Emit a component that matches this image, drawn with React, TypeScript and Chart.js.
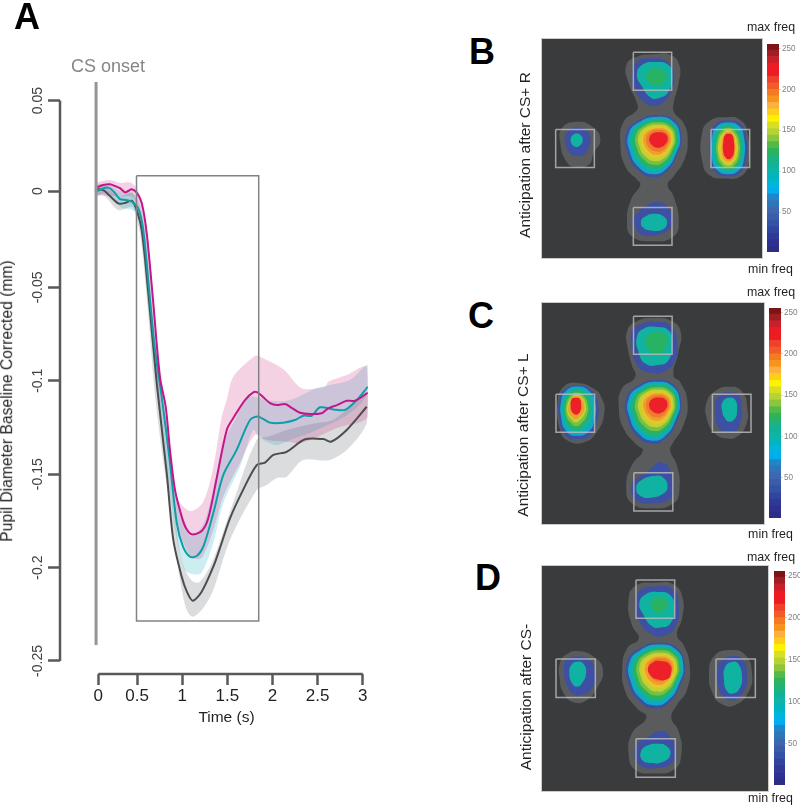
import React, { useEffect, useRef } from "react";
import { Chart, registerables } from "chart.js";

Chart.register(...registerables);

const FONT = '"Liberation Sans", Arial, sans-serif';

/* ---------- Panel A data ---------- */
const yTickValues = [0.05, 0.0016, -0.05, -0.1, -0.15, -0.2, -0.25];
const yTickLabels = ["0.05", "0", "-0.05", "-0.1", "-0.15", "-0.2", "-0.25"];
const xTickValues = [0.07, 0.5, 1, 1.5, 2, 2.5, 3];
const xTickLabels = ["0", "0.5", "1", "1.5", "2", "2.5", "3"];

const magentaT = [0.033, 0.122, 0.199, 0.255, 0.31, 0.366, 0.399, 0.44, 0.495, 0.551, 0.606, 0.676, 0.753, 0.817, 0.864, 0.92, 0.994, 1.041, 1.105, 1.215, 1.289, 1.382, 1.493, 1.566, 1.695, 1.787, 1.832, 1.895, 1.972, 2.05, 2.139, 2.216, 2.305, 2.416, 2.545, 2.618, 2.715, 2.822, 2.914, 3.055];
const magentaV = [0.0031, 0.0048, 0.0052, 0.0043, 0.0031, 0.0009, 0.0016, 0.0025, 0.0007, -0.0048, -0.0209, -0.0567, -0.098, -0.1139, -0.137, -0.1585, -0.1727, -0.1788, -0.1822, -0.1804, -0.1734, -0.152, -0.1263, -0.1199, -0.1103, -0.1062, -0.1062, -0.1087, -0.1119, -0.113, -0.1124, -0.1146, -0.1171, -0.1178, -0.1174, -0.1147, -0.113, -0.1107, -0.1107, -0.1064];
const tealT = [0.033, 0.111, 0.181, 0.244, 0.31, 0.377, 0.44, 0.513, 0.568, 0.643, 0.698, 0.772, 0.864, 0.939, 1.008, 1.086, 1.16, 1.233, 1.344, 1.455, 1.603, 1.751, 1.843, 1.972, 2.12, 2.249, 2.341, 2.434, 2.526, 2.674, 2.803, 2.933, 3.055];
const tealV = [0.0009, 0.0027, 0.0034, 0.0011, -0.0027, -0.0032, -0.0041, -0.0077, -0.0193, -0.0567, -0.0835, -0.1085, -0.144, -0.1761, -0.1888, -0.1942, -0.1938, -0.1888, -0.1708, -0.1504, -0.137, -0.121, -0.1192, -0.1224, -0.1224, -0.121, -0.1187, -0.1187, -0.1142, -0.1153, -0.1156, -0.1103, -0.1032];
const greyT = [0.033, 0.125, 0.199, 0.291, 0.366, 0.44, 0.495, 0.551, 0.624, 0.717, 0.828, 0.901, 0.994, 1.053, 1.116, 1.215, 1.344, 1.429, 1.529, 1.673, 1.825, 1.917, 2.009, 2.157, 2.36, 2.563, 2.648, 2.822, 3.044];
const greyV = [0.0027, 0.0021, -0.0011, -0.005, -0.0048, -0.0036, -0.0086, -0.0193, -0.053, -0.1012, -0.1494, -0.1852, -0.2049, -0.2131, -0.2177, -0.2129, -0.1995, -0.1879, -0.1736, -0.1585, -0.1451, -0.1438, -0.1397, -0.138, -0.1313, -0.1312, -0.1326, -0.1263, -0.1139];

const pinkUpT = [0.033, 0.199, 0.31, 0.44, 0.532, 0.606, 0.676, 0.753, 0.828, 0.939, 1.086, 1.233, 1.344, 1.438, 1.493, 1.566, 1.806, 1.861, 2.12, 2.324, 2.582, 2.618, 2.822, 3.044];
const pinkUpV = [0.006, 0.0075, 0.0059, 0.0059, -0.0005, -0.0177, -0.053, -0.0942, -0.1192, -0.162, -0.1697, -0.1647, -0.146, -0.1192, -0.1103, -0.0978, -0.0866, -0.0871, -0.0938, -0.104, -0.1032, -0.1005, -0.0969, -0.0925];
const pinkLoT = [0.033, 0.31, 0.44, 0.51, 0.576, 0.643, 0.731, 0.828, 0.939, 1.049, 1.119, 1.215, 1.344, 1.455, 1.64, 1.806, 1.936, 2.157, 2.305, 2.504, 2.711, 3.055];
const pinkLoV = [-0.0005, -0.0014, -0.0014, -0.0068, -0.0219, -0.0567, -0.1022, -0.1333, -0.1761, -0.1906, -0.1949, -0.1949, -0.1799, -0.162, -0.144, -0.129, -0.1317, -0.1326, -0.1333, -0.1299, -0.1253, -0.1192];
const tealUpT = [0.033, 0.177, 0.31, 0.44, 0.521, 0.587, 0.654, 0.753, 0.842, 0.931, 1.086, 1.23, 1.341, 1.452, 1.603, 1.751, 1.972, 2.194, 2.49, 2.637, 2.859, 3.055];
const tealUpV = [0.004, 0.0054, 0.0016, 0.0011, -0.0043, -0.0193, -0.0541, -0.0996, -0.1263, -0.1611, -0.1831, -0.1772, -0.1585, -0.1344, -0.1192, -0.1085, -0.1107, -0.1103, -0.1039, -0.1022, -0.0996, -0.0915];
const tealLoT = [0.033, 0.177, 0.31, 0.44, 0.504, 0.554, 0.62, 0.731, 0.831, 0.939, 1.03, 1.122, 1.215, 1.344, 1.455, 1.64, 1.787, 1.861, 2.046, 2.194, 2.49, 2.859, 3.055];
const tealLoV = [-0.0016, 0.0005, -0.007, -0.0086, -0.0112, -0.0219, -0.0594, -0.1103, -0.1478, -0.1852, -0.2013, -0.2036, -0.2027, -0.1868, -0.1654, -0.146, -0.1263, -0.1306, -0.1344, -0.1317, -0.1263, -0.1172, -0.1065];
const greyUpT = [0.033, 0.125, 0.291, 0.44, 0.499, 0.554, 0.643, 0.753, 0.864, 0.975, 1.049, 1.122, 1.197, 1.341, 1.562, 1.825, 1.972, 2.157, 2.49, 2.67, 3.055];
const greyUpV = [0.0054, 0.0048, -0.0011, 0.0005, -0.0048, -0.0166, -0.0541, -0.1076, -0.1478, -0.1922, -0.2029, -0.2076, -0.2076, -0.1959, -0.1654, -0.1317, -0.1296, -0.1263, -0.1226, -0.121, -0.1065];
const greyLoT = [0.033, 0.125, 0.291, 0.44, 0.488, 0.543, 0.609, 0.698, 0.787, 0.864, 0.975, 1.049, 1.116, 1.233, 1.344, 1.529, 1.825, 1.936, 2.046, 2.157, 2.338, 2.637, 2.859, 3.044];
const greyLoV = [-0.0011, -0.0005, -0.0086, -0.007, -0.0118, -0.0246, -0.0567, -0.1076, -0.1424, -0.1674, -0.2066, -0.2227, -0.2263, -0.2216, -0.212, -0.1852, -0.1585, -0.1558, -0.152, -0.1513, -0.1424, -0.1424, -0.1353, -0.1226];

const windowBoxT = [0.493, 1.847];
const windowBoxV = [0.0098, -0.2286];
const onsetT = 0.045;
const onsetV = [0.0599, -0.2414];

/* ---------- Gaze-map contours: flat x,y lists in map units ---------- */
const centreB = [
  [590,286,642,302,663,350,652,402,618,455,575,472,532,450,502,400,498,340,532,303],
  [590,291,639,306,659,351,648,399,617,448,577,463,536,443,509,397,505,342,536,307],
  [591,296,637,310,655,352,645,396,615,440,578,454,541,435,515,393,512,343,541,311],
  [592,301,634,314,651,352,641,393,614,433,580,446,545,428,522,390,519,345,545,315],
  [592,307,631,319,646,353,637,389,613,424,581,435,550,419,530,386,527,346,550,319],
  [593,314,627,324,641,354,633,386,611,415,583,424,555,410,538,382,535,348,555,324],
  [593,319,624,328,636,355,629,382,610,407,585,415,560,402,545,378,543,350,560,328],
  [594,325,621,332,632,356,625,379,608,399,586,405,565,394,552,374,550,351,565,333],
  [594,330,618,337,627,357,621,376,607,391,588,395,569,386,559,370,558,353,569,337],
  [595,337,615,342,622,358,616,372,605,381,590,384,575,376,568,366,567,355,575,342],
];
const centreRedD = [600,348,628,358,632,385,620,403,590,403,570,390,563,370,578,352];

const haloB = [
  [580,103,630,105,657,135,655,190,640,250,642,278,670,310,682,360,672,420,640,470,622,495,640,530,655,600,640,650,575,665,515,650,500,605,512,540,540,495,530,480,495,440,480,370,490,305,530,270,530,250,505,190,498,135,530,110],
  [350,306,395,320,420,358,400,400,385,435,345,442,318,425,300,370,305,325],
  [795,292,840,300,862,340,865,430,840,470,795,476,750,468,727,430,725,340,750,302],
];
const topB = [
  [575,115,620,125,640,160,632,215,605,250,580,258,550,245,525,210,516,165,530,125],
  [585,126,625,135,636,165,625,215,595,235,570,232,545,200,530,165,545,135],
  [588,145,612,155,618,175,605,192,585,198,565,185,557,165,568,150],
];
const bottomB = [
  [585,547,620,560,637,600,625,630,590,645,545,645,525,625,520,600,535,575,565,555],
  [583,582,612,592,620,612,605,630,575,633,550,625,542,605,555,590],
];
const leftB = [
  [350,323,382,335,390,365,375,400,345,408,322,390,314,355,325,332],
  [348,341,362,347,367,362,358,378,345,381,334,372,331,357,337,346],
];
const rightB = [
  [803,302,840,312,857,350,857,420,840,458,803,470,767,458,750,420,750,350,767,312],
  [803,308,835,318,851,352,851,418,835,452,803,463,772,452,755,418,755,352,772,318],
  [803,314,830,322,846,355,846,415,830,447,803,457,776,447,761,415,761,355,776,322],
  [803,319,826,328,841,358,841,412,826,442,803,450,781,442,766,412,766,358,781,328],
  [803,324,822,333,836,360,836,410,822,436,803,444,785,436,771,410,771,360,785,333],
  [803,330,818,338,831,362,831,406,818,430,803,437,789,430,776,406,776,362,789,338],
  [803,335,815,342,827,365,827,403,815,425,803,430,792,425,780,403,780,365,792,342],
  [804,336,818,344,824,368,824,400,816,420,804,426,792,420,784,400,784,368,792,344],
  [805,342,815,345,821,365,821,398,815,412,805,418,795,412,789,398,789,365,795,345],
];
const boxesB = [[519,97,634,211],[286,329,402,443],[752,329,868,443],[519,563,635,677]];

const haloC = [
  [580,98,635,108,662,140,655,200,640,270,660,290,682,350,670,420,635,480,630,497,650,540,658,610,640,655,575,670,515,655,498,605,515,540,548,497,530,480,490,430,476,370,485,310,525,275,515,240,503,190,500,140,525,110],
  [350,293,400,310,425,340,432,385,410,440,370,472,320,465,298,430,292,350,310,305],
  [805,305,845,318,862,370,858,420,830,455,800,460,765,445,740,400,740,350,765,318],
];
const topC = [
  [585,110,630,120,650,165,645,225,610,260,570,262,535,245,516,190,516,135,545,115],
  [590,125,625,135,636,170,625,225,590,240,555,235,535,200,530,155,550,130],
  [590,140,615,148,622,170,610,198,595,210,572,200,556,175,563,150],
];
const bottomC = [
  [605,532,625,545,640,600,632,640,580,655,535,650,515,625,520,590,555,565,590,535],
  [585,572,612,580,622,605,610,625,570,638,540,632,528,612,540,588],
];
const leftC = [
  [350,300,390,312,412,350,410,410,390,450,350,462,315,450,297,400,297,340,315,312],
  [350,304,385,316,405,352,402,405,385,440,350,452,318,438,303,400,303,345,318,316],
  [348,310,380,320,398,355,395,400,378,430,350,443,322,430,308,400,308,350,322,322],
  [346,316,375,327,390,358,386,395,370,422,348,433,326,420,313,395,313,352,326,328],
  [346,322,370,332,383,360,380,390,365,413,347,423,330,412,318,390,318,355,330,332],
  [346,328,366,337,377,362,374,385,360,404,346,412,334,403,322,385,322,358,334,338],
  [346,332,362,340,372,362,368,382,356,396,346,402,336,395,326,382,326,360,336,342],
  [347,338,358,340,363,362,360,378,352,387,345,388,335,380,331,362,335,340],
];
const rightC = [
  [808,322,835,330,846,370,840,415,830,435,805,438,780,432,767,400,767,350,780,330],
  [808,337,826,345,831,375,825,400,808,410,795,400,786,375,788,350],
];
const boxesC = [[520,93,636,207],[287,327,403,441],[757,327,873,441],[521,563,638,678]];

const haloD = [
  [585,112,640,118,667,160,665,220,650,270,670,300,688,360,680,435,650,480,633,518,655,560,663,630,640,675,580,686,525,675,505,630,515,565,558,518,530,490,495,440,486,370,500,310,535,280,515,240,504,170,525,122],
  [350,318,400,335,428,375,410,430,380,465,340,472,310,445,298,400,300,350,318,328],
  [810,315,855,330,875,385,865,440,825,480,785,478,755,440,746,390,760,335],
];
const topD = [
  [590,123,640,135,655,185,645,245,610,272,575,268,540,235,527,190,535,140],
  [595,140,630,150,642,190,630,235,600,247,575,243,550,210,537,175,555,148],
  [597,155,615,162,622,180,608,198,595,205,578,192,570,175,578,162],
];
const bottomD = [
  [600,558,625,570,647,620,635,655,590,670,545,665,525,640,530,600,565,575],
  [590,597,620,605,630,630,610,650,570,655,545,645,542,620,560,603],
];
const leftD = [
  [350,334,388,345,405,385,395,430,365,450,340,448,320,420,311,380,318,345],
  [350,350,370,357,377,385,365,415,350,425,335,415,327,385,333,360],
];
const rightD = [
  [818,333,848,345,860,395,850,440,820,465,790,455,773,420,770,375,785,345],
  [818,350,835,358,845,395,838,430,818,446,800,438,791,405,795,365],
];
const boxesD = [[527,104,643,219],[287,342,405,458],[767,342,885,458],[527,582,645,698]];

/* ---------- Colour bar ---------- */
const barEdges = [1,8,16,24,32,40,48,56,64,72,80,88,96,104,112,120,128,136,144,152,160,168,176,184,192,200,208,216,232,240,248,256];
const barColours = ["#2b2e83","#2e3192","#2f3a96","#32459e","#3553a4","#3a5ca9","#3d68b0","#2f75b9","#1f86c7","#00aeef","#00b5dc","#00b5c0","#0db4a8","#10b397","#1eb27c","#2cb35c","#55b848","#8cc63f","#b5d334","#d7df23","#fff200","#fdd017","#fbb040","#f7941d","#f47c20","#f15a29","#ef4129","#ed1c24","#c8202b","#a01e22","#7a1416"];
const barTicks = [50, 100, 150, 200, 250];

/* ---------- Styles ---------- */
const BLUE = "#3d50a3", CYAN = "#10a8c8", TEAL = "#10b2a2", GREEN = "#27b264", LIME = "#78bf44",
  YGREEN = "#bfd231", YORANGE = "#e3c72b", ORANGE = "#ef9e2c", RORANGE = "#ee7a2d", RED = "#ec2029";
const centreColours = [BLUE, CYAN, TEAL, GREEN, LIME, YGREEN, YORANGE, ORANGE, RORANGE, RED];
const rightBColours = [BLUE, CYAN, TEAL, GREEN, LIME, YGREEN, YORANGE, ORANGE, RED];
const leftCColours = [BLUE, CYAN, TEAL, GREEN, LIME, YGREEN, ORANGE, RED];
const triColours = [BLUE, TEAL, GREEN];
const HALO = "#5a5b5d";

const mapPoly = (p: number[], sx: number, sy: number, cx: number, cy: number, tx: number, ty: number) =>
  p.map((v, i) => (i % 2 === 0 ? (v - cx) * sx + tx : (v - cy) * sy + ty));

type Layer = { poly: number[]; colour: string };
const layers = (polys: number[][], colours: string[]): Layer[] =>
  polys.map((poly, i) => ({ poly, colour: colours[i] }));

const centreC = centreB.map((p) => mapPoly(p, 1, 1.03, 0, 378, 0, 379));
const centreD = centreB.map((p) => mapPoly(p, 1.05, 1.065, 580, 378, 586, 391));
centreD[centreD.length - 1] = centreRedD;

const panels = [
  {
    rect: [542, 39, 220, 219], origin: [245, 57], size: [660, 658], bar: [767, 38, 12, 220],
    layers: [...layers(haloB, [HALO, HALO, HALO]), ...layers(topB, triColours), ...layers(bottomB, [BLUE, TEAL]), ...layers(leftB, [BLUE, TEAL]), ...layers(rightB, rightBColours), ...layers(centreB, centreColours)],
    boxes: boxesB,
  },
  {
    rect: [542, 303, 222, 221], origin: [245, 53], size: [667, 664], bar: [769, 302, 12, 222],
    layers: [...layers(haloC, [HALO, HALO, HALO]), ...layers(topC, triColours), ...layers(bottomC, [BLUE, TEAL]), ...layers(rightC, [BLUE, TEAL]), ...layers(leftC, leftCColours), ...layers(centreC, centreColours)],
    boxes: boxesC,
  },
  {
    rect: [542, 566, 226, 225], origin: [245, 62], size: [678, 677], bar: [774, 565, 11, 226],
    layers: [...layers(haloD, [HALO, HALO, HALO]), ...layers(topD, triColours), ...layers(bottomD, [BLUE, TEAL]), ...layers(leftD, [BLUE, TEAL]), ...layers(rightD, [BLUE, TEAL]), ...layers(centreD, centreColours)],
    boxes: boxesD,
  },
];

const pairs = (p: number[]) => {
  const out: { x: number; y: number }[] = [];
  for (let i = 0; i < p.length; i += 2) out.push({ x: p[i], y: p[i + 1] });
  return out;
};
const closedSmooth = (p: number[]) => {
  const pts = pairs(p);
  return [pts[pts.length - 1], ...pts, pts[0], pts[1]];
};
const series = (t: number[], v: number[]) => t.map((x, i) => ({ x, y: v[i] }));
const bandShape = (ut: number[], uv: number[], lt: number[], lv: number[]) =>
  [...series(ut, uv), ...series(lt, lv).reverse()];

const texts: { s: string; x: number; y: number; size: number; color: string; weight?: number; rot?: boolean }[] = [
  { s: "A", x: 27, y: 17, size: 36, color: "#000", weight: 700 },
  { s: "B", x: 482, y: 52, size: 36, color: "#000", weight: 700 },
  { s: "C", x: 481, y: 316, size: 36, color: "#000", weight: 700 },
  { s: "D", x: 488, y: 578, size: 36, color: "#000", weight: 700 },
  { s: "CS onset", x: 108, y: 66, size: 18, color: "#85868a" },
  { s: "Pupil Diameter Baseline Corrected (mm)", x: 7, y: 401, size: 15.7, color: "#231f20", rot: true },
  { s: "Time (s)", x: 226.5, y: 717, size: 15.5, color: "#231f20" },
  { s: "Anticipation after CS+ R", x: 525, y: 155, size: 15.5, color: "#231f20", rot: true },
  { s: "Anticipation after CS+ L", x: 523, y: 435, size: 15.5, color: "#231f20", rot: true },
  { s: "Anticipation after CS-", x: 526, y: 697, size: 15.5, color: "#231f20", rot: true },
  { s: "max freq", x: 771, y: 27, size: 12.4, color: "#231f20" },
  { s: "min freq", x: 770.5, y: 269, size: 12.4, color: "#231f20" },
  { s: "max freq", x: 771, y: 292, size: 12.4, color: "#231f20" },
  { s: "min freq", x: 770.5, y: 534, size: 12.4, color: "#231f20" },
  { s: "max freq", x: 771, y: 557, size: 12.4, color: "#231f20" },
  { s: "min freq", x: 770.5, y: 798, size: 12.4, color: "#231f20" },
];

const canvasStyle = (x: number, y: number, w: number, h: number, extra: object = {}) => ({
  position: "absolute" as const, left: x, top: y, width: w, height: h, display: "block", ...extra,
});

export default function App() {
  const aRef = useRef<HTMLCanvasElement>(null);
  const heatRefs = useRef<(HTMLCanvasElement | null)[]>([]);
  const barRefs = useRef<(HTMLCanvasElement | null)[]>([]);

  useEffect(() => {
    const charts: Chart[] = [];
    const base = { fill: false, pointRadius: 0, showLine: true, tension: 0 };
    const AW = 400, AH = 740;

    const lineSet = (data: any[], color: string, width: number, extra: object = {}) => ({
      ...base, data, borderColor: color, borderWidth: width, ...extra,
    });
    const bandSet = (data: any[], color: string) => ({
      ...base, tension: 0.3, data, fill: "shape", backgroundColor: color, borderWidth: 0,
    });

    const yMin = -0.25696, yMax = 0.05996, xMin = -0.3546, xMax = 3.058;
    const drawn = [
      bandSet(bandShape(greyUpT, greyUpV, greyLoT, greyLoV), "rgba(90,95,100,0.22)"),
      bandSet(bandShape(tealUpT, tealUpV, tealLoT, tealLoV), "rgba(0,170,190,0.2)"),
      bandSet(bandShape(pinkUpT, pinkUpV, pinkLoT, pinkLoV), "rgba(200,30,120,0.2)"),
      lineSet(series(greyT, greyV), "#4d4d4f", 2, { tension: 0.3 }),
      lineSet(series(tealT, tealV), "#0f9ea8", 2, { tension: 0.3 }),
      lineSet(series(magentaT, magentaV), "#c4168c", 2, { tension: 0.3 }),
      lineSet(
        [
          { x: windowBoxT[0], y: windowBoxV[0] }, { x: windowBoxT[1], y: windowBoxV[0] },
          { x: windowBoxT[1], y: windowBoxV[1] }, { x: windowBoxT[0], y: windowBoxV[1] },
          { x: windowBoxT[0], y: windowBoxV[0] },
        ], "#808285", 1.5),
      lineSet([{ x: onsetT, y: onsetV[0] }, { x: onsetT, y: onsetV[1] }], "#939598", 3),
      lineSet([{ x: xMin, y: yTickValues[0] }, { x: xMin, y: yTickValues[6] }], "#58595b", 2.5, { clip: false }),
      lineSet([{ x: xTickValues[0], y: yMin }, { x: xTickValues[6], y: yMin }], "#58595b", 2.5, { clip: false }),
    ];
    const datasets = drawn.map((d, i) => ({ ...d, order: drawn.length - i }));

    const rotatedYLabels = {
      id: "rotatedYLabels",
      afterDraw(chart: any) {
        const ctx = chart.ctx, sc = chart.scales.y;
        ctx.save();
        ctx.font = `14px ${FONT}`;
        ctx.fillStyle = "#414042";
        ctx.textAlign = "center";
        ctx.textBaseline = "middle";
        sc.ticks.forEach((t: any, i: number) => {
          ctx.save();
          ctx.translate(38, sc.getPixelForTick(i));
          ctx.rotate(-Math.PI / 2);
          ctx.fillText(t.label, 0, 0);
          ctx.restore();
        });
        ctx.restore();
      },
    };

    charts.push(new Chart(aRef.current!, {
      type: "scatter",
      data: { datasets: datasets as any },
      plugins: [rotatedYLabels],
      options: {
        animation: false, responsive: false,
        layout: { padding: { left: 0, top: 82, right: AW - 368, bottom: 0 } },
        plugins: { legend: { display: false }, tooltip: { enabled: false } },
        scales: {
          x: {
            type: "linear", min: xMin, max: xMax,
            border: { display: false },
            grid: { drawOnChartArea: false, drawTicks: true, tickLength: 11, tickWidth: 2.5, tickColor: "#58595b" },
            ticks: {
              autoSkip: false, maxRotation: 0, minRotation: 0, padding: 1, color: "#231f20",
              font: { family: FONT, size: 17 },
              callback: (_v: any, i: number) => xTickLabels[i],
            },
            afterBuildTicks: (s: any) => { s.ticks = xTickValues.map((value) => ({ value })); },
            afterFit: (s: any) => { s.height = AH - 674; },
          },
          y: {
            type: "linear", min: yMin, max: yMax,
            border: { display: false },
            grid: { drawOnChartArea: false, drawTicks: true, tickLength: 12, tickWidth: 2.5, tickColor: "#58595b" },
            ticks: { display: false, callback: (_v: any, i: number) => yTickLabels[i] },
            afterBuildTicks: (s: any) => { s.ticks = yTickValues.map((value) => ({ value })); },
            afterFit: (s: any) => { s.width = 60; },
          },
        },
      } as any,
    }));

    panels.forEach((p, pi) => {
      const polys = p.layers.map((l) => ({
        ...base, tension: 0.5, data: closedSmooth(l.poly), fill: "shape", backgroundColor: l.colour, borderWidth: 0,
      }));
      const boxes = p.boxes.map(([x0, y0, x1, y1]) => ({
        ...base,
        data: [{ x: x0, y: y0 }, { x: x1, y: y0 }, { x: x1, y: y1 }, { x: x0, y: y1 }, { x: x0, y: y0 }],
        borderColor: "rgba(190,191,193,0.8)", borderWidth: 1.5,
      }));
      const all = [...polys, ...boxes];
      charts.push(new Chart(heatRefs.current[pi]!, {
        type: "scatter",
        data: { datasets: all.map((d, i) => ({ ...d, order: all.length - i })) as any },
        options: {
          animation: false, responsive: false,
          plugins: { legend: { display: false }, tooltip: { enabled: false } },
          scales: {
            x: { type: "linear", display: false, min: p.origin[0], max: p.origin[0] + p.size[0] },
            y: { type: "linear", display: false, reverse: true, min: p.origin[1], max: p.origin[1] + p.size[1] },
          },
        } as any,
      }));

      charts.push(new Chart(barRefs.current[pi]!, {
        type: "bar",
        data: {
          labels: ["freq"],
          datasets: barColours.map((c, i) => ({
            data: [[barEdges[i], barEdges[i + 1]]], backgroundColor: c, borderWidth: 0,
            barPercentage: 1, categoryPercentage: 1, grouped: false,
          })) as any,
        },
        options: {
          animation: false, responsive: false,
          plugins: { legend: { display: false }, tooltip: { enabled: false } },
          scales: {
            x: { display: false },
            y: {
              position: "right", min: 1, max: 255.5,
              border: { display: false },
              grid: { drawOnChartArea: false, drawTicks: true, tickLength: 2, tickColor: "#d1d3d4", tickWidth: 1 },
              ticks: { color: "#808285", padding: 1, font: { family: FONT, size: 8.2 } },
              afterBuildTicks: (s: any) => { s.ticks = barTicks.map((value) => ({ value })); },
              afterFit: (s: any) => { s.width = 22; },
            },
          },
        } as any,
      }));
    });

    return () => charts.forEach((c) => c.destroy());
  }, []);

  return (
    <div style={{ position: "absolute", left: 0, top: 0, width: 800, height: 805, overflow: "hidden", background: "#fff", fontFamily: FONT }}>
      <canvas ref={aRef} width={400} height={740} style={canvasStyle(0, 0, 400, 740)} />
      {panels.map((p, i) => (
        <React.Fragment key={i}>
          <canvas
            ref={(el) => { heatRefs.current[i] = el; }}
            width={p.rect[2]} height={p.rect[3]}
            style={canvasStyle(p.rect[0], p.rect[1], p.rect[2], p.rect[3], { background: "#3a3b3d", outline: "1px solid rgba(170,170,172,0.6)" })}
          />
          <canvas
            ref={(el) => { barRefs.current[i] = el; }}
            width={p.bar[2] + 22} height={p.bar[3]}
            style={canvasStyle(p.bar[0], p.bar[1], p.bar[2] + 22, p.bar[3])}
          />
        </React.Fragment>
      ))}
      {texts.map((t, i) => (
        <div
          key={i}
          style={{
            position: "absolute", left: t.x, top: t.y, whiteSpace: "nowrap", lineHeight: 1,
            fontSize: t.size, color: t.color, fontWeight: t.weight ?? 400,
            transform: `translate(-50%,-50%)${t.rot ? " rotate(-90deg)" : ""}`,
          }}
        >
          {t.s}
        </div>
      ))}
    </div>
  );
}
